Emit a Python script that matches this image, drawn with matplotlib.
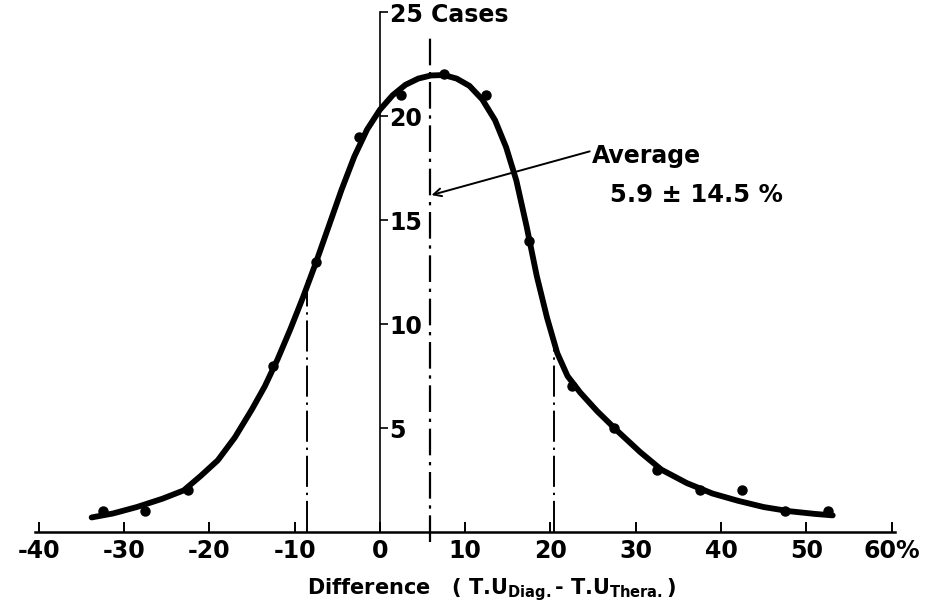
import matplotlib
matplotlib.use("Agg")
import matplotlib.pyplot as plt

# observed counts per 5% bin (bin centres)
bin_centres = [-32.5, -27.5, -22.5, -12.5, -7.5, -2.5, 2.5, 7.5, 12.5,
               17.5, 22.5, 27.5, 32.5, 37.5, 42.5, 47.5, 52.5]
cases = [1, 1, 2, 8, 13, 19, 21, 22, 21, 14, 7, 5, 3, 2, 2, 1, 1]

# hand-drawn smooth curve
curve_x = [-33.8, -31.3, -28.5, -25.5, -23.0, -21.0, -19.0, -17.0, -15.0,
           -13.5, -12.0, -10.5, -9.0, -7.5, -6.0, -4.5, -3.0, -1.5, 0.0,
           1.5, 3.0, 4.5, 6.0, 7.5, 9.0, 10.5, 12.0, 13.5, 14.8, 16.0,
           17.2, 18.4, 19.6, 20.8, 22.0, 23.5, 25.5, 28.0, 30.5, 33.0,
           36.0, 39.0, 42.0, 45.0, 48.0, 51.0, 53.1]
curve_y = [0.70, 0.89, 1.20, 1.60, 2.00, 2.70, 3.45, 4.55, 5.90,
           7.00, 8.30, 9.75, 11.30, 12.95, 14.70, 16.45, 18.05, 19.35, 20.30,
           21.00, 21.50, 21.80, 21.95, 21.97, 21.80, 21.45, 20.80, 19.80, 18.50, 16.90,
           14.70, 12.30, 10.30, 8.60, 7.50, 6.70, 5.80, 4.80, 3.85, 3.00,
           2.35, 1.85, 1.50, 1.20, 1.00, 0.87, 0.80]

average = 5.9
sd = 14.5
sd_heights = [12.1, 8.9]

x_ticks = [-40, -30, -20, -10, 0, 10, 20, 30, 40, 50, 60]
x_labels = ['-40', '-30', '-20', '-10', '0', '10', '20', '30', '40', '50', '60%']
y_ticks = [5, 10, 15, 20, 25]
y_labels = ['5', '10', '15', '20', '25 Cases']

plt.rcParams['font.family'] = ['DejaVu Sans']
plt.rcParams['font.weight'] = 'bold'

fig = plt.figure(figsize=(9.35, 6.08), dpi=100)
ax = fig.add_axes([0.0369, 0.125, 0.9203, 0.8655])
ax.set_xlim(-40.5, 60.4)
ax.set_ylim(0, 25.3)

# curve and points
ax.plot(curve_x, curve_y, color='black', lw=4.2, solid_capstyle='round',
        solid_joinstyle='round', zorder=4)
ax.plot(bin_centres, cases, 'o', color='black', ms=6.5, zorder=5)

# mean and +/- 1 sd
ax.plot([average, average], [-0.5, 24.0], color='black', lw=1.6,
        dashes=(12, 3, 1.5, 3), clip_on=False, zorder=3)
ax.plot([average - sd, average - sd], [0, sd_heights[0]], color='black', lw=1.4,
        dashes=(16, 3, 1.2, 3), zorder=3)
ax.plot([average + sd, average + sd], [0, sd_heights[1]], color='black', lw=1.4,
        dashes=(16, 3, 1.2, 3), zorder=3)

ax.annotate('', xy=(average + 0.15, 16.2), xytext=(24.6, 18.3),
            arrowprops=dict(arrowstyle='->', color='black', lw=1.4,
                            mutation_scale=14, shrinkA=0, shrinkB=0))
ax.text(24.9, 18.1, 'Average', fontsize=17, fontweight='bold', va='center', ha='left')
ax.text(27.0, 16.2, '5.9 \u00b1 14.5 %', fontsize=17.5, fontweight='bold', va='center', ha='left')

# axes: x along the bottom, y drawn at x = 0 with labels to its right
for s in ['top', 'left']:
    ax.spines[s].set_visible(False)
ax.spines['bottom'].set_linewidth(1.8)
ax.spines['right'].set_position(('data', 0))
ax.spines['right'].set_bounds(0, 25)
ax.spines['right'].set_linewidth(1.2)
ax.yaxis.tick_right()

ax.set_xticks(x_ticks)
ax.set_xticklabels(x_labels)
ax.set_yticks(y_ticks)
ax.set_yticklabels(y_labels)
ax.tick_params(axis='x', direction='in', length=7, width=1.4, pad=5, labelsize=17)
ax.tick_params(axis='y', direction='out', length=6, width=1.2, pad=1, labelsize=17)

fig.text(491 / 935, 1 - 590 / 608,
         r'Difference   ( T.U$_{\mathbf{Diag.}}$- T.U$_{\mathbf{Thera.}}$)',
         fontsize=15, fontweight='bold', ha='center', va='center')

fig.savefig('out.png', dpi=100, facecolor='white')
